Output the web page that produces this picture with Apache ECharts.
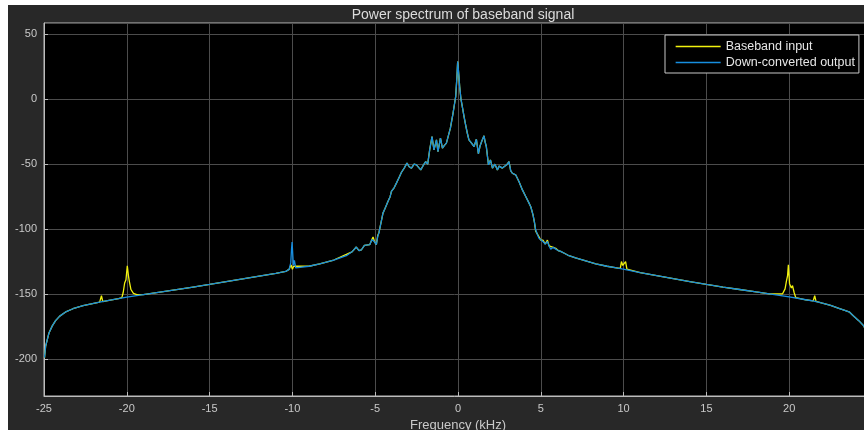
<!DOCTYPE html>
<html>
<head>
<meta charset="utf-8">
<script src="https://cdn.jsdelivr.net/npm/echarts@6/dist/echarts.min.js"></script>
<style>
html,body{margin:0;padding:0;background:#ffffff;}
#chart{position:absolute;left:0;top:0;width:864px;height:430px;}
</style>
</head>
<body>
<div id="chart"></div>
<script>
// ---- data ----
const chartTitle = 'Power spectrum of baseband signal';
const xAxisName = 'Frequency (kHz)';
const seriesNames = ['Baseband input', 'Down-converted output'];

// Down-converted output (blue): frequency (kHz) and power (dB)
const freqOut = [
  -24.97, -24.9, -24.82, -24.7, -24.5, -24.3, -24.05, -23.65, -23.25, -22.64, -22.0, -21.64, -21.0, -20.5, -20.0,
  -19.0, -18.0, -17.0, -16.0, -15.0, -14.0, -13.0, -12.0, -11.0, -10.4, -10.2, -10.1, -10.05, -10.02, -9.98,
  -9.94, -9.88, -9.8, -9.0, -8.35, -7.5, -6.74, -6.4, -6.14, -5.98, -5.83, -5.65, -5.53, -5.33, -5.2,
  -5.13, -5.03, -4.93, -4.85, -4.77, -4.53, -4.4, -4.23, -4.1, -4.02, -3.85, -3.72, -3.55, -3.42, -3.25,
  -3.08, -2.95, -2.81, -2.65, -2.51, -2.38, -2.25, -2.1, -1.95, -1.83, -1.71, -1.57, -1.45, -1.3, -1.21,
  -1.06, -0.94, -0.82, -0.7, -0.58, -0.46, -0.3, -0.14, -0.06, -0.02, 0.02, 0.06, 0.1, 0.18, 0.26,
  0.36, 0.46, 0.56, 0.66, 0.77, 0.87, 0.97, 1.11, 1.23, 1.33, 1.43, 1.57, 1.64, 1.71, 1.84,
  1.96, 2.08, 2.23, 2.38, 2.48, 2.58, 2.68, 2.78, 2.94, 3.08, 3.18, 3.28, 3.38, 3.48, 3.68,
  3.89, 4.09, 4.29, 4.4, 4.53, 4.62, 4.69, 4.79, 4.89, 5.0, 5.13, 5.27, 5.4, 5.5, 5.6,
  5.75, 5.9, 6.05, 6.2, 6.45, 6.7, 7.1, 7.51, 8.32, 9.0, 9.66, 9.9, 10.27, 11.0, 12.0,
  13.0, 14.0, 15.0, 16.0, 17.0, 18.0, 19.0, 20.0, 21.0, 21.5, 22.0, 22.5, 23.0, 23.4, 23.65,
  23.85, 24.2, 24.5, 24.7, 24.82, 24.9, 24.97
];
const powerOut = [
  -199, -190, -186, -180, -174.5, -170.5, -167, -163.5, -161.3, -159, -157.2, -156.2, -154.6, -153.5, -152.4,
  -150.4, -148.5, -146.6, -144.6, -142.6, -140.5, -138.4, -136.2, -134, -132.5, -131, -126, -115, -110, -119,
  -128, -124, -129.8, -128.6, -126.7, -123.8, -120.5, -117.5, -113.8, -116.5, -115.9, -112.5, -111.3, -112, -108,
  -107, -110, -112, -106, -102.6, -87.7, -84, -78.8, -75, -71, -68, -64.6, -60, -56.4, -53,
  -49.2, -52, -53, -50, -50.5, -52.5, -54.4, -51, -48, -50, -39, -28.8, -39, -31.3, -40.3,
  -30, -37.7, -35.5, -33.8, -28, -22.3, -10.8, 2, 18, 29, 30, 17, 9.7, 0, -5.7,
  -13, -19.8, -26, -31.3, -33, -33.8, -36.4, -30.8, -42, -36, -32.6, -28.2, -33, -36.4, -50.5,
  -46.7, -53, -50, -54.4, -51.5, -50.5, -53, -54.4, -50.5, -48, -55, -57, -56, -58.2, -63.4,
  -69.8, -74.9, -80, -83, -89, -95, -100.5, -104, -107, -108.5, -109.5, -111.5, -109.5, -113, -115.4,
  -114, -115.4, -116.5, -117.2, -118.8, -120.5, -122.2, -123.6, -126.7, -128.6, -130, -130.6, -131.5, -133.5, -135.8,
  -138.2, -140.4, -142.6, -144.6, -146.5, -148.4, -150.3, -152.2, -154.4, -155.5, -157, -158.8, -161, -162.8, -164,
  -166.5, -170.5, -174.5, -180, -186, -190, -199
];

// Baseband input (yellow): frequency (kHz) and power (dB)
const freqIn = [
  -24.97, -24.9, -24.82, -24.7, -24.5, -24.3, -24.05, -23.65, -23.25, -22.64, -22.0, -21.64, -21.53, -21.45, -21.0,
  -20.5, -20.3, -20.22, -20.13, -20.05, -19.97, -19.9, -19.85, -19.75, -19.6, -19.4, -19.0, -18.0, -17.0, -16.0,
  -15.0, -14.0, -13.0, -12.0, -11.0, -10.4, -10.2, -10.08, -10.0, -9.92, -9.8, -9.0, -8.35, -7.5, -6.74,
  -6.4, -6.14, -5.98, -5.83, -5.65, -5.53, -5.33, -5.2, -5.13, -5.03, -4.93, -4.85, -4.77, -4.53, -4.4,
  -4.23, -4.1, -4.02, -3.85, -3.72, -3.55, -3.42, -3.25, -3.08, -2.95, -2.81, -2.65, -2.51, -2.38, -2.25,
  -2.1, -1.95, -1.83, -1.71, -1.57, -1.45, -1.3, -1.21, -1.06, -0.94, -0.82, -0.7, -0.58, -0.46, -0.3,
  -0.14, -0.06, -0.02, 0.02, 0.06, 0.1, 0.18, 0.26, 0.36, 0.46, 0.56, 0.66, 0.77, 0.87, 0.97,
  1.11, 1.23, 1.33, 1.43, 1.57, 1.64, 1.71, 1.84, 1.96, 2.08, 2.23, 2.38, 2.48, 2.58, 2.68,
  2.78, 2.94, 3.08, 3.18, 3.28, 3.38, 3.48, 3.68, 3.89, 4.09, 4.29, 4.4, 4.53, 4.62, 4.69,
  4.79, 4.89, 5.0, 5.13, 5.27, 5.4, 5.5, 5.6, 5.75, 5.9, 6.05, 6.2, 6.45, 6.7, 7.1,
  7.51, 8.32, 9.0, 9.66, 9.8, 9.87, 9.95, 10.05, 10.12, 10.2, 11.0, 12.0, 13.0, 14.0, 15.0,
  16.0, 17.0, 18.0, 18.8, 18.87, 18.95, 19.0, 19.6, 19.75, 19.83, 19.9, 19.95, 20.02, 20.13, 20.2,
  20.3, 20.4, 21.0, 21.45, 21.54, 21.62, 22.0, 22.5, 23.0, 23.4, 23.65, 23.85, 24.2, 24.5, 24.7,
  24.82, 24.9, 24.97
];
const powerIn = [
  -199, -190, -186, -180, -174.5, -170.5, -167, -163.5, -161.3, -159, -157.2, -156.2, -151.3, -155.8, -154.6,
  -153.5, -152.8, -149, -141.5, -139, -128.2, -136, -140, -146.5, -149.5, -150.5, -150.4, -148.5, -146.6, -144.6,
  -142.6, -140.5, -138.4, -136.2, -134, -132.5, -131, -127.5, -131, -128.5, -129.8, -128.6, -126.7, -123.8, -119.5,
  -117.5, -113.8, -116.5, -115.9, -112.5, -111.3, -112, -108, -106, -110, -112, -105, -102.6, -87.7, -84,
  -78.8, -75, -71, -68, -64.6, -60, -56.4, -53, -49.2, -52, -53, -50, -50.5, -52.5, -54.4,
  -51, -48, -50, -39, -28.8, -39, -31.3, -40.3, -30, -37.7, -35.5, -33.8, -28, -22.3, -10.8,
  2, 18, 29, 30, 17, 9.7, 0, -5.7, -13, -19.8, -26, -31.3, -33, -33.8, -36.4,
  -30.8, -42, -36, -32.6, -28.2, -33, -36.4, -50.5, -46.7, -53, -50, -54.4, -51.5, -50.5, -53,
  -54.4, -50.5, -48, -55, -57, -56, -58.2, -63.4, -69.8, -74.9, -80, -83, -89, -95, -101.5,
  -103, -106, -108.5, -108.5, -111.5, -108.5, -113, -114.4, -114, -114.8, -116.5, -117.2, -118.8, -120.5, -122.2,
  -123.6, -126.7, -128.6, -130, -130.3, -125, -128, -126.5, -125, -130.8, -133.5, -135.8, -138.2, -140.4, -142.6,
  -144.6, -146.5, -148.4, -149.9, -148.7, -149.9, -150.3, -149.8, -146, -140.3, -136, -127.5, -142, -145.4, -143.5,
  -149, -152.8, -154.4, -155.3, -151.3, -155.6, -157, -158.8, -161, -162.8, -164, -166.5, -170.5, -174.5, -180,
  -186, -190, -199
];

const xTicksMin = -25, xTicksMax = 25, xTickStep = 5;
const yMin = -228.5, yMax = 58.7;

// ---- build chart ----
function pairs(xs, ys) { return xs.map((x, i) => [x, ys[i]]); }

const chart = echarts.init(document.getElementById('chart'), null, {renderer: 'canvas'});
const labelColor = '#c9c9c9';
const font = 'Liberation Sans, Arial, sans-serif';

chart.setOption({
  backgroundColor: 'transparent',
  animation: false,
  graphic: [{
    type: 'rect', z: -10, silent: true,
    shape: {x: 8, y: 5, width: 856, height: 425},
    style: {fill: '#282828'}
  }],
  title: {
    text: chartTitle,
    left: 458, top: 3,
    textAlign: 'center',
    textStyle: {color: '#dcdcdc', fontSize: 14, fontWeight: 'normal', fontFamily: font}
  },
  legend: {
    data: seriesNames,
    orient: 'vertical',
    left: 665, top: 35,
    itemWidth: 45, itemHeight: 12, itemGap: 3,
    padding: [5, 4, 4, 10],
    backgroundColor: '#000000',
    borderColor: '#c8c8c8', borderWidth: 1, borderRadius: 0,
    itemStyle: {opacity: 0},
    lineStyle: {width: 1.3},
    textStyle: {color: '#e6e6e6', fontSize: 12.5, fontFamily: font}
  },
  grid: {
    left: 44, top: 23, width: 828, height: 373,
    outerBoundsMode: 'none', containLabel: false,
    show: true, backgroundColor: '#000000', borderColor: '#bdbdbd', borderWidth: 1
  },
  xAxis: {
    type: 'value', min: xTicksMin, max: xTicksMax, interval: xTickStep,
    name: xAxisName, nameLocation: 'middle', nameGap: 20,
    nameTextStyle: {color: labelColor, fontSize: 13, fontFamily: font},
    axisLine: {show: true, onZero: false, lineStyle: {color: '#bdbdbd'}},
    axisTick: {show: true, inside: true, length: 4, lineStyle: {color: '#bdbdbd'}},
    axisLabel: {color: labelColor, fontSize: 11, fontFamily: font, margin: 7},
    splitLine: {show: true, lineStyle: {color: '#4c4c4c', width: 1}}
  },
  yAxis: {
    type: 'value', min: yMin, max: yMax, splitNumber: 5,
    axisLine: {show: true, onZero: false, lineStyle: {color: '#bdbdbd'}},
    axisTick: {show: true, inside: true, length: 4, lineStyle: {color: '#bdbdbd'}},
    axisLabel: {color: labelColor, fontSize: 11, fontFamily: font, margin: 7,
      showMinLabel: false, showMaxLabel: false},
    splitLine: {show: true, lineStyle: {color: '#4c4c4c', width: 1}}
  },
  series: [
    {
      name: seriesNames[0], type: 'line', symbol: 'none',
      data: pairs(freqIn, powerIn),
      lineStyle: {color: '#f2f20e', width: 1.3},
      itemStyle: {color: '#f2f20e'},
      z: 2
    },
    {
      name: seriesNames[1], type: 'line', symbol: 'none',
      data: pairs(freqOut, powerOut),
      lineStyle: {color: '#178ee0', width: 1.3},
      itemStyle: {color: '#178ee0'},
      z: 3
    }
  ]
});
</script>
</body>
</html>
